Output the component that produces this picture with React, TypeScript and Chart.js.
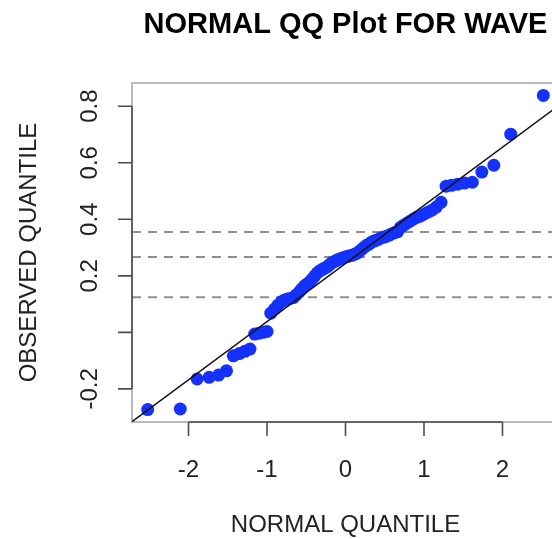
import { useEffect, useRef } from 'react';
import { Chart, registerables } from 'chart.js';

Chart.register(...registerables);

const theoreticalQuantiles = [
  -2.52, -2.105, -1.89, -1.737, -1.616, -1.516, -1.429, -1.352, -1.282, -1.217,
  -1.157, -1.101, -1.049, -0.999, -0.952, -0.906, -0.863, -0.821, -0.78, -0.741,
  -0.703, -0.665, -0.629, -0.593, -0.559, -0.524, -0.491, -0.458, -0.425, -0.393,
  -0.361, -0.33, -0.299, -0.268, -0.238, -0.208, -0.178, -0.148, -0.118, -0.089,
  -0.059, -0.03, 0, 0.03, 0.059, 0.089, 0.118, 0.148, 0.178, 0.208,
  0.238, 0.268, 0.299, 0.33, 0.361, 0.393, 0.425, 0.458, 0.491, 0.524,
  0.559, 0.593, 0.629, 0.665, 0.703, 0.741, 0.78, 0.821, 0.863, 0.906,
  0.952, 0.999, 1.049, 1.101, 1.157, 1.217, 1.282, 1.352, 1.429, 1.516,
  1.616, 1.737, 1.89, 2.105, 2.52,
];

const observedQuantiles = [
  -0.273, -0.271, -0.165, -0.159, -0.151, -0.136, -0.083, -0.075, -0.067, -0.059,
  -0.006, -0.003, 0.0, 0.003, 0.068, 0.082, 0.096, 0.107, 0.114, 0.118,
  0.12, 0.123, 0.132, 0.142, 0.153, 0.164, 0.171, 0.178, 0.188, 0.199,
  0.21, 0.217, 0.222, 0.227, 0.231, 0.238, 0.245, 0.25, 0.254, 0.258,
  0.261, 0.264, 0.267, 0.269, 0.271, 0.273, 0.277, 0.28, 0.287, 0.294,
  0.301, 0.308, 0.312, 0.319, 0.323, 0.326, 0.33, 0.335, 0.337, 0.34,
  0.344, 0.349, 0.353, 0.356, 0.372, 0.379, 0.386, 0.393, 0.4, 0.407,
  0.411, 0.418, 0.425, 0.432, 0.443, 0.46, 0.517, 0.52, 0.524, 0.528,
  0.531, 0.567, 0.591, 0.701, 0.838,
];

// Horizontal dashed reference levels
const quartileLevels = [0.124, 0.267, 0.355];

// Straight reference line end points
const refLineX = [-2.72, 2.72];
const refLineY = [-0.316, 0.803];

const xRange = [-2.72, 2.72];
const yRange = [-0.317, 0.882];

const xTicks = [-2, -1, 0, 1, 2];
const xTickLabels = ['-2', '-1', '0', '1', '2'];
const yTicks = [-0.2, 0, 0.2, 0.4, 0.6, 0.8];
const yTickLabels = ['-0.2', '', '0.2', '0.4', '0.6', '0.8'];

const TITLE = 'NORMAL QQ Plot FOR WAVE';
const X_TITLE = 'NORMAL QUANTILE';
const Y_TITLE = 'OBSERVED QUANTILE';

const FONT = '"Liberation Sans", Arial, Helvetica, sans-serif';

const rAxesPlugin = {
  id: 'rAxes',
  beforeDatasetsDraw(chart: any) {
    const { ctx, chartArea: a } = chart;
    ctx.save();
    ctx.strokeStyle = '#a9a9a9';
    ctx.lineWidth = 1.6;
    ctx.strokeRect(a.left, a.top, a.right - a.left, a.bottom - a.top);
    ctx.restore();
  },
  afterDatasetsDraw(chart: any) {
    const { ctx, chartArea: a, scales } = chart;
    const xs = scales.x;
    const ys = scales.y;
    ctx.save();
    ctx.strokeStyle = '#4d4d4d';
    ctx.lineWidth = 1.6;
    ctx.beginPath();
    // x axis line and ticks
    const xp0 = xs.getPixelForValue(xTicks[0]);
    const xp1 = xs.getPixelForValue(xTicks[xTicks.length - 1]);
    ctx.moveTo(xp0, a.bottom);
    ctx.lineTo(xp1, a.bottom);
    xTicks.forEach((v) => {
      const px = xs.getPixelForValue(v);
      ctx.moveTo(px, a.bottom);
      ctx.lineTo(px, a.bottom + 14);
    });
    // y axis line and ticks
    const yp0 = ys.getPixelForValue(yTicks[0]);
    const yp1 = ys.getPixelForValue(yTicks[yTicks.length - 1]);
    ctx.moveTo(a.left, yp0);
    ctx.lineTo(a.left, yp1);
    yTicks.forEach((v) => {
      const py = ys.getPixelForValue(v);
      ctx.moveTo(a.left, py);
      ctx.lineTo(a.left - 14, py);
    });
    ctx.stroke();

    ctx.fillStyle = '#222';
    ctx.font = `24px ${FONT}`;
    ctx.textAlign = 'center';
    ctx.textBaseline = 'alphabetic';
    xTicks.forEach((v, i) => {
      ctx.fillText(xTickLabels[i], xs.getPixelForValue(v), a.bottom + 55);
    });
    yTicks.forEach((v, i) => {
      if (!yTickLabels[i]) return;
      ctx.save();
      ctx.translate(a.left - 35, ys.getPixelForValue(v));
      ctx.rotate(-Math.PI / 2);
      ctx.fillText(yTickLabels[i], 0, 0);
      ctx.restore();
    });
    ctx.restore();
  },
};

export default function App() {
  const canvasRef = useRef<HTMLCanvasElement | null>(null);

  useEffect(() => {
    const canvas = canvasRef.current;
    if (!canvas) return;

    const points = theoreticalQuantiles.map((x, i) => ({ x, y: observedQuantiles[i] }));

    const dashedSets = quartileLevels.map((lvl) => ({
      type: 'scatter' as const,
      data: [
        { x: xRange[0], y: lvl },
        { x: xRange[1], y: lvl },
      ],
      showLine: true,
      borderColor: '#8f8f8f',
      borderWidth: 2,
      borderDash: [9, 7],
      pointRadius: 0,
      order: 2,
    }));

    const chart = new Chart(canvas, {
      type: 'scatter',
      data: {
        datasets: [
          {
            data: refLineX.map((x, i) => ({ x, y: refLineY[i] })),
            showLine: true,
            borderColor: '#111',
            borderWidth: 1.4,
            pointRadius: 0,
            order: 0,
          },
          {
            data: points,
            backgroundColor: '#1432fa',
            borderWidth: 0,
            pointRadius: 6.5,
            pointHoverRadius: 6.5,
            order: 1,
          },
          ...dashedSets,
        ] as any,
      },
      options: {
        responsive: false,
        animation: false,
        events: [],
        layout: { padding: { left: 0, right: 11, top: 0, bottom: 0 } },
        plugins: {
          legend: { display: false },
          tooltip: { enabled: false },
          title: {
            display: true,
            text: TITLE,
            fullSize: false,
            color: '#000',
            font: { family: FONT, size: 29, weight: 'bold', lineHeight: 1.2 },
            padding: { top: 8, bottom: 40.2 },
          },
        },
        scales: {
          x: {
            type: 'linear',
            position: 'bottom',
            min: xRange[0],
            max: xRange[1],
            grid: { display: false },
            border: { display: false },
            ticks: { display: false },
            title: {
              display: true,
              text: X_TITLE,
              color: '#222',
              font: { family: FONT, size: 24, lineHeight: 1.2 },
              padding: { top: 0, bottom: -1 },
            },
            afterFit: (s: any) => {
              s.height = 117;
            },
          },
          y: {
            type: 'linear',
            position: 'left',
            min: yRange[0],
            max: yRange[1],
            grid: { display: false },
            border: { display: false },
            ticks: { display: false },
            title: {
              display: true,
              text: Y_TITLE,
              color: '#222',
              font: { family: FONT, size: 24, lineHeight: 1.2 },
              padding: { top: 15, bottom: 0 },
            },
            afterFit: (s: any) => {
              s.width = 132;
            },
          },
        },
      } as any,
      plugins: [rAxesPlugin],
    });

    return () => {
      chart.destroy();
    };
  }, []);

  return (
    <div
      style={{
        position: 'fixed',
        left: 0,
        top: 0,
        width: 552,
        height: 539,
        overflow: 'hidden',
        background: '#fff',
      }}
    >
      <canvas
        ref={canvasRef}
        width={570}
        height={539}
        style={{ width: 570, height: 539, display: 'block' }}
      />
    </div>
  );
}
